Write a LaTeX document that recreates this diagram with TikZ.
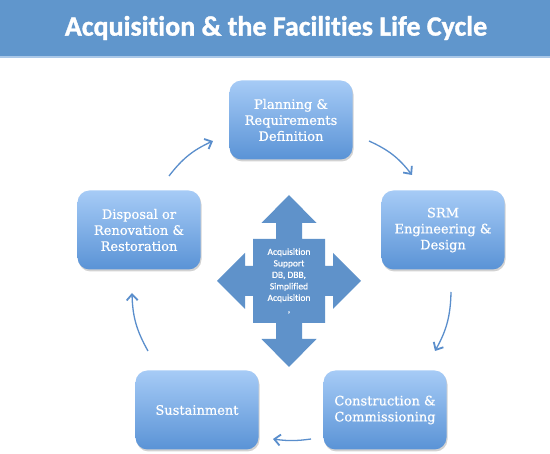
\documentclass[tikz,border=0pt]{standalone}
\usepackage{fontspec}
\setmainfont{DejaVu Serif}
\newfontfamily\titlefont{Carlito}[FakeBold=1.2, Ligatures=NoCommon]
\newfontfamily\boxfont{DejaVu Serif}[FakeBold=0.7]
\newfontfamily\hubfont{Carlito}[FakeBold=0.6, Ligatures=NoCommon]
\usetikzlibrary{arrows.meta,shadows,calc}

\definecolor{barblue}{RGB}{96,150,204}
\definecolor{barline}{RGB}{170,200,232}
\definecolor{linkblue}{RGB}{90,142,204}
\definecolor{boxtop}{RGB}{166,203,246}
\definecolor{boxbot}{RGB}{90,147,214}
\definecolor{quadblue}{RGB}{95,146,202}

\begin{document}
\begin{tikzpicture}[x=1pt,y=-1pt,
  stage/.style={rounded corners=12pt, minimum width=123pt, minimum height=79pt,
    top color=boxtop, bottom color=boxbot, draw=none, text=white, align=center,
    font=\boxfont\fontsize{13}{16}\selectfont,
    drop shadow={shadow xshift=1pt, shadow yshift=-2pt, opacity=0.35}},
  link/.style={draw=linkblue, line width=1.3pt,
    -{Straight Barb[length=6pt,width=11pt,line width=1.8pt]}, bend left=14},
  hubtext/.style={text=white, align=center, font=\hubfont\fontsize{9.5}{11.5}\selectfont}]

\useasboundingbox (0,0) rectangle (550,454);
\fill[white] (0,0) rectangle (550,454);

% title bar
\fill[barblue] (0,0) rectangle (550,56);
\fill[barline] (0,56) rectangle (550,58.5);
\node[text=white, font=\titlefont\bfseries\fontsize{28}{32}\selectfont] (title) at (276,28)
  {Acquisition \& the Facilities Life Cycle};

% stages
\node[stage] (plan) at (291,120) {Planning \&\\Requirements\\Definition};
\node[stage] (srm)  at (443,230) {SRM\\Engineering \&\\Design};
\node[stage] (cons) at (385,410) {Construction \&\\Commissioning};
\node[stage] (sust) at (197,410) {Sustainment};
\node[stage] (disp) at (139,230) {Disposal or\\Renovation \&\\Restoration};

% central quad arrow
\fill[quadblue] (289,195) -- (316.5,223) -- (302,223) -- (302,239) -- (325,239)
  -- (325,266) -- (333,266) -- (333,253) -- (361,281) -- (333,309) -- (333,296)
  -- (325,296) -- (325,323) -- (302,323) -- (302,339) -- (316.5,339) -- (289,367)
  -- (261.5,339) -- (276,339) -- (276,323) -- (253,323) -- (253,296) -- (245,296)
  -- (245,309) -- (217,281) -- (245,253) -- (245,266) -- (253,266) -- (253,239)
  -- (276,239) -- (276,223) -- (261.5,223) -- cycle;
\node[hubtext] (hub) at (289,281)
  {Acquisition\\Support\\DB, DBB,\\Simplified\\Acquisition\\,};

% cycle arrows
\coordinate (a1s) at (169,176); \coordinate (a1e) at (213,141);
\coordinate (a2s) at (369,141); \coordinate (a2e) at (412,175);
\coordinate (a3s) at (451,292); \coordinate (a3e) at (435,351);
\coordinate (a4s) at (311,439); \coordinate (a4e) at (273,439);
\coordinate (a5s) at (148,351); \coordinate (a5e) at (132,293);
\draw[link] (a1s) to (a1e);
\draw[link] (a2s) to (a2e);
\draw[link] (a3s) to (a3e);
\draw[link, bend left=8] (a4s) to (a4e);
\draw[link] (a5s) to (a5e);
\end{tikzpicture}
\end{document}
